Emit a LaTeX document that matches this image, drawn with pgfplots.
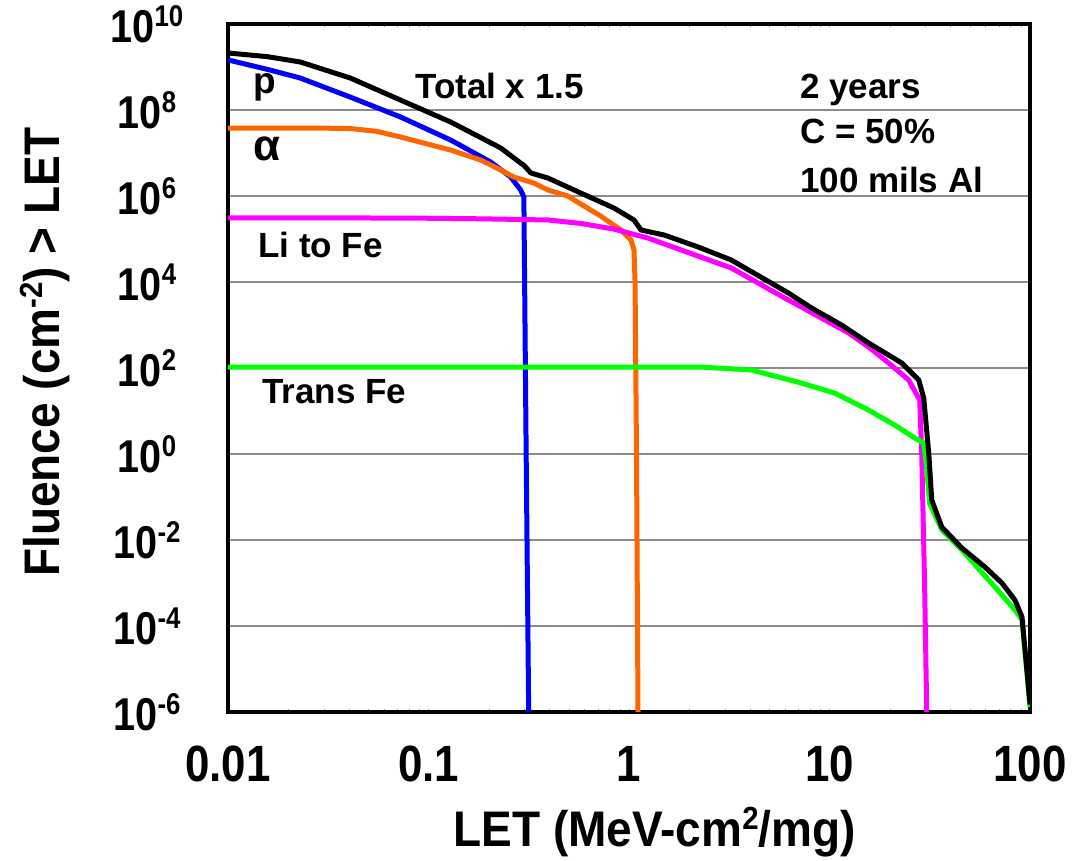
\documentclass[border=0pt]{standalone}
\usepackage{fontspec}
\setmainfont{Liberation Sans}
\newfontfamily\tickfont{Liberation Sans}[FakeStretch=0.86]
\newfontfamily\labfont{Liberation Sans}[FakeStretch=0.92]
\usepackage{pgfplots}
\pgfplotsset{compat=1.18}

\definecolor{cp}{RGB}{0,0,255}
\definecolor{ca}{RGB}{255,102,0}
\definecolor{cli}{RGB}{255,0,255}
\definecolor{cfe}{RGB}{0,255,0}

% 10^n in the text font
\newcommand\pw[1]{10\raisebox{16pt}{\fontsize{30}{30}\selectfont #1}}
\newcommand\sups[1]{\raisebox{17pt}{\fontsize{32}{32}\selectfont #1}}

\begin{document}
\begin{tikzpicture}[x=1pt,y=1pt]
\begin{axis}[
  at={(228pt,148pt)}, anchor=south west,
  scale only axis, width=802pt, height=688pt,
  xmode=log, ymode=log,
  xmin=0.01, xmax=100, ymin=1e-6, ymax=1e10,
  axis line style={line width=4pt},
  major tick length=0pt, minor tick num=0,
  xtick={0.01,0.1,1,10,100},
  xticklabels={0.01,0.1,1,10,100},
  ytick={1e-6,1e-4,1e-2,1,1e2,1e4,1e6,1e8,1e10},
  yticklabels={\pw{-6},\pw{-4},\pw{-2},\pw{0},\pw{2},\pw{4},\pw{6},\pw{8},\pw{10}},
  xticklabel style={font=\fontsize{51}{51}\tickfont\bfseries, anchor=base, yshift=-69pt},
  yticklabel style={font=\fontsize{46}{46}\tickfont\bfseries, anchor=center, xshift=-81pt},
  ymajorgrids, grid style={black!45, line width=1.5pt},
  xlabel={LET (MeV-cm\sups{2}/mg)},
  ylabel={Fluence (cm\sups{-2}) > LET},
  xlabel style={font=\fontsize{50}{50}\labfont\bfseries, at={(axis description cs:0.532,-0.1962)}, anchor=base},
  ylabel style={font=\fontsize{50}{50}\labfont\bfseries, at={(axis description cs:-0.2095,0.523)}, anchor=base},
  crv/.style={line width=5pt, line join=round},
]
% p
\addplot[cp, crv] coordinates {
  (0.01,1.46e9) (0.0162,8.5e8) (0.0229,5.55e8) (0.0407,2.0e8) (0.0724,6.9e7)
  (0.129,2.0e7) (0.204,6.18e6) (0.257,2.77e6) (0.288,1.38e6) (0.299,9.5e5)
  (0.307,1) (0.316,1e-6)};
% alpha
\addplot[ca, crv] coordinates {
  (0.01,3.81e7) (0.02,3.81e7) (0.03,3.78e7) (0.0407,3.7e7) (0.055,3.2e7)
  (0.0724,2.36e7) (0.129,1.17e7) (0.182,6.87e6) (0.229,4.03e6) (0.266,2.77e6)
  (0.335,2.0e6) (0.394,1.38e6) (0.495,1.0e6) (0.575,6.5e5) (0.724,3.4e5)
  (0.785,2.6e5) (0.912,1.62e5) (1.023,9.48e4) (1.059,5.55e4) (1.072,1e4)
  (1.09,1) (1.109,1e-6)};
% Li to Fe
\addplot[cli, crv] coordinates {
  (0.01,3.08e5) (0.05,3.08e5) (0.09,3.05e5) (0.182,2.95e5) (0.394,2.77e5)
  (0.575,2.3e5) (0.841,1.7e5) (1.245,1.05e5) (1.82,5.55e4) (3.236,2.12e4)
  (6.237,3.81e3) (7.244,2.62e3) (12.45,651) (15.67,307) (19.72,131)
  (24.83,52.6) (28.18,18) (28.84,1) (29.8,1e-3) (30.55,1e-6)};
% Trans Fe
\addplot[cfe, crv] coordinates {
  (0.01,105) (1,105) (2.29,105) (4.074,90) (7.244,44.7) (10.59,26.2)
  (15.67,10.5) (21.13,4.72) (26.61,2.36) (29.51,1.8) (30.5,0.5) (31.6,0.07)
  (36.31,0.0171) (45.71,5.85e-3) (66.83,8.07e-4) (84.14,2.36e-4)
  (91.2,1.38e-4) (95.5,1.4e-5) (100,1.3e-6)};
% Total x 1.5
\addplot[black, crv] coordinates {
  (0.01,2.12e9) (0.0157,1.74e9) (0.0229,1.31e9) (0.0407,5.55e8) (0.0724,1.71e8)
  (0.129,5.26e7) (0.229,1.31e7) (0.288,5.85e6) (0.299,5.2e6) (0.324,3.43e6)
  (0.394,2.62e6) (0.575,1.17e6) (0.841,5.26e5) (1.059,2.77e5) (1.148,1.62e5)
  (1.496,1.24e5) (2.213,6.52e4) (3.236,3.25e4) (6.237,5.55e3) (8.128,2.49e3)
  (11.48,1.0e3) (15.67,381) (22.91,131) (27.86,52.6) (29.51,20) (31.26,1.05)
  (32.36,0.085) (36.31,0.02) (45.71,6.52e-3) (59.57,2.36e-3) (72.44,1e-3)
  (84.14,4e-4) (91.2,1.62e-4) (95.5,1.6e-5) (100,1.5e-6)};

\begin{scope}[every node/.style={anchor=base west, inner sep=0pt, font=\fontsize{35}{35}\selectfont\bfseries}]
\node at (rel axis cs:0.0312,0.8983) {\fontsize{37}{37}\selectfont p};
\node at (rel axis cs:0.0312,0.8023) {\fontsize{44}{44}\selectfont α};
\node at (rel axis cs:0.2332,0.891) {Total x 1.5};
\node at (rel axis cs:0.7132,0.8924) {2 years};
\node at (rel axis cs:0.7132,0.827) {C = 50\%};
\node at (rel axis cs:0.7132,0.7558) {100 mils Al};
\node at (rel axis cs:0.0374,0.6613) {Li to Fe};
\node at (rel axis cs:0.0424,0.4491) {Trans Fe};
\end{scope}
\end{axis}
\pgfresetboundingbox
\path (0,0) rectangle (1083,860);
\end{tikzpicture}
\end{document}
